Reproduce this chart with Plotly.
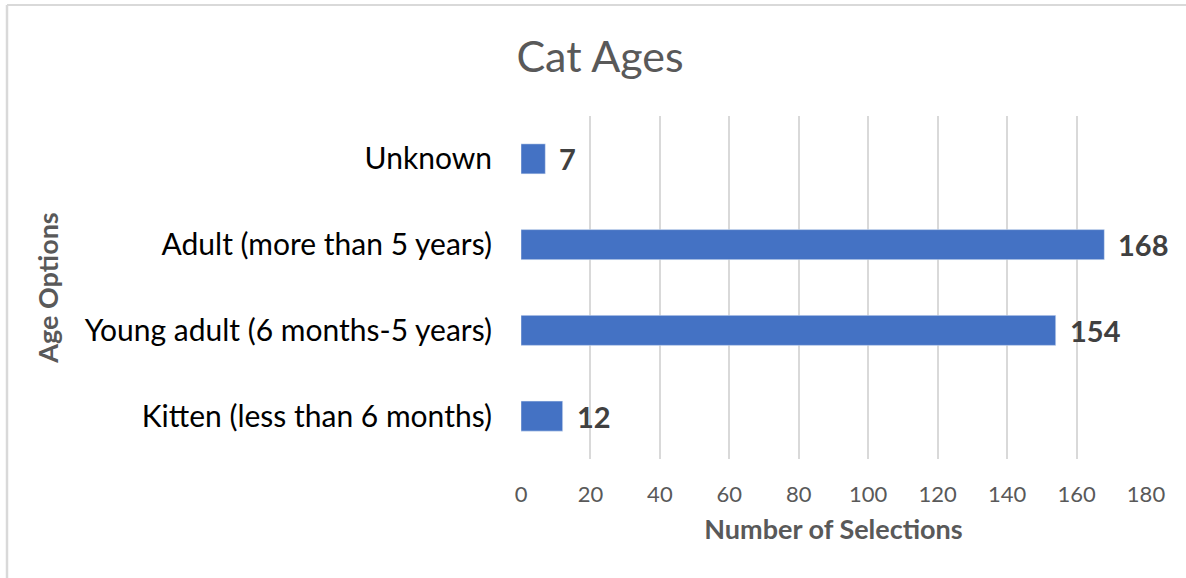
import plotly.graph_objects as go

categories = ["Kitten (less than 6 months)", "Young adult (6 months-5 years)",
              "Adult (more than 5 years)", "Unknown"]
values = [12, 154, 168, 7]
x_ticks = [0, 20, 40, 60, 80, 100, 120, 140, 160, 180]

W, H = 1186, 578
L, R, T, B = 521, 1146, 116, 459

fig = go.Figure(go.Bar(
    y=categories, x=values, orientation="h",
    marker=dict(color="#4472C4"),
    hoverinfo="x+y",
))

for c, v in zip(categories, values):
    fig.add_annotation(x=v, y=c, xref="x", yref="y", text=str(v), showarrow=False,
                       xanchor="left", xshift=12, yanchor="middle",
                       font=dict(family="Lato", size=29, color="#404040", weight="bold"))

fig.update_layout(
    width=W, height=H,
    margin=dict(l=L, r=W - R, t=T, b=H - B, pad=0),
    paper_bgcolor="white", plot_bgcolor="white",
    bargap=0.65,
    showlegend=False,
    font=dict(family="Lato", color="#595959"),
    title=dict(text="Cat Ages", x=600 / W, xref="container", xanchor="center",
               y=1 - 57 / H, yref="container", yanchor="middle",
               font=dict(family="Lato", size=43, color="#595959")),
    xaxis=dict(range=[0, 180], tickvals=x_ticks, showgrid=True, gridcolor="#D9D9D9",
               gridwidth=2, zeroline=False, showline=False,
               tickfont=dict(size=22, color="#595959"), ticks="", ticklabelstandoff=20,
               title=dict(text="Number of Selections", standoff=14,
                          font=dict(size=27, color="#595959", weight="bold"))),
    yaxis=dict(showgrid=False, zeroline=False, showline=False, ticks="",
               tickfont=dict(size=30, color="#000000"), ticklabelstandoff=28,
               title=dict(text="Age Options", standoff=18,
                          font=dict(size=27, color="#595959", weight="bold"))),
)

pw, ph = R - L, B - T
def px_to_paper_x(px):
    return (px - L) / pw
def px_to_paper_y(py):
    return (B - py) / ph

fig.add_shape(type="line", xref="paper", yref="paper",
              x0=px_to_paper_x(7), x1=px_to_paper_x(7),
              y0=px_to_paper_y(5), y1=px_to_paper_y(H + 5),
              line=dict(color="#D9D9D9", width=2.5))
fig.add_shape(type="line", xref="paper", yref="paper",
              x0=px_to_paper_x(7), x1=px_to_paper_x(W + 5),
              y0=px_to_paper_y(5), y1=px_to_paper_y(5),
              line=dict(color="#D9D9D9", width=2))

fig.write_html("out.html", config={"displayModeBar": False},
               post_script="document.body.style.margin='0';")
